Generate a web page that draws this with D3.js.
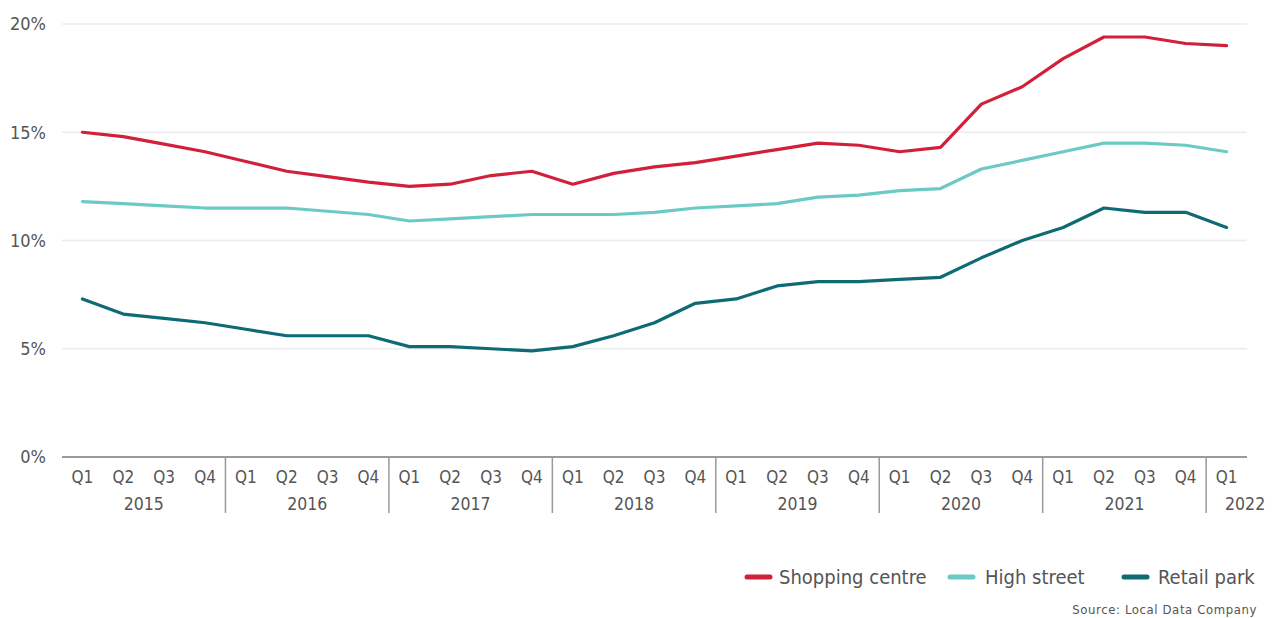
<!DOCTYPE html>
<html>
<head>
<meta charset="utf-8">
<script src="https://cdn.jsdelivr.net/npm/d3@7"></script>
<style>
  body { margin: 0; background: #fff; }
  svg text { font-family: "DejaVu Sans Condensed", "Liberation Sans Narrow", Roboto, sans-serif; fill: #555; }
</style>
</head>
<body>
<svg id="chart" width="1278" height="618"></svg>
<script>
// quarters 2015 Q1 .. 2022 Q1
const years = ['2015', '2016', '2017', '2018', '2019', '2020', '2021', '2022'];
const quarters = ['Q1', 'Q2', 'Q3', 'Q4'];
const yTicks = [0, 5, 10, 15, 20];

const shoppingCentre = [15.0, 14.8, 14.45, 14.1, 13.65, 13.2, 12.95, 12.7,
    12.5, 12.6, 13.0, 13.2, 12.6, 13.1, 13.4, 13.6,
    13.9, 14.2, 14.5, 14.4, 14.1, 14.3, 16.3, 17.1,
    18.4, 19.4, 19.4, 19.1, 19.0];
const highStreet = [11.8, 11.7, 11.6, 11.5, 11.5, 11.5, 11.35, 11.2,
    10.9, 11.0, 11.1, 11.2, 11.2, 11.2, 11.3, 11.5,
    11.6, 11.7, 12.0, 12.1, 12.3, 12.4, 13.3, 13.7,
    14.1, 14.5, 14.5, 14.4, 14.1];
const retailPark = [7.3, 6.6, 6.4, 6.2, 5.9, 5.6, 5.6, 5.6,
    5.1, 5.1, 5.0, 4.9, 5.1, 5.6, 6.2, 7.1,
    7.3, 7.9, 8.1, 8.1, 8.2, 8.3, 9.2, 10.0,
    10.6, 11.5, 11.3, 11.3, 10.6];

const seriesNames = ['Shopping centre', 'High street', 'Retail park'];
const colors = ['#d2203a', '#6ccac6', '#0e6b74'];

// build the list of periods
const periods = [];
years.forEach(yr => {
    quarters.forEach(q => {
        if (periods.length < shoppingCentre.length) periods.push({ year: yr, q: q, key: yr + ' ' + q });
    });
});

const series = [shoppingCentre, highStreet, retailPark].map((vals, i) => ({
    name: seriesNames[i],
    color: colors[i],
    values: vals.map((v, j) => ({ key: periods[j].key, v: v }))
}));

const svg = d3.select('#chart');

const margin = { left: 62, right: 1247, top: 24, bottom: 457 };

const x = d3.scaleBand()
    .domain(periods.map(d => d.key))
    .range([margin.left, margin.right]);

const y = d3.scaleLinear()
    .domain([0, 20])
    .range([margin.bottom, margin.top]);

// gridlines
svg.append('g')
    .selectAll('line')
    .data(yTicks.filter(d => d > 0))
    .enter()
    .append('line')
    .attr('x1', margin.left)
    .attr('x2', margin.right)
    .attr('y1', d => y(d))
    .attr('y2', d => y(d))
    .style('stroke', '#ececec')
    .style('stroke-width', 1.5);

// y labels
svg.append('g')
    .selectAll('text')
    .data(yTicks)
    .enter()
    .append('text')
    .attr('x', 46)
    .attr('y', d => y(d))
    .attr('dy', '.35em')
    .attr('text-anchor', 'end')
    .style('font-size', '18px')
    .text(d => d + '%');

// x axis baseline
svg.append('line')
    .attr('x1', margin.left)
    .attr('x2', margin.right)
    .attr('y1', margin.bottom)
    .attr('y2', margin.bottom)
    .style('stroke', '#9a9a9a')
    .style('stroke-width', 2);

// quarter labels
svg.append('g')
    .selectAll('text')
    .data(periods)
    .enter()
    .append('text')
    .attr('x', d => x(d.key) + x.bandwidth() / 2)
    .attr('y', 483)
    .attr('text-anchor', 'middle')
    .style('font-size', '17px')
    .text(d => d.q);

// year separators and labels
const yearGroups = years.map(yr => {
    const ps = periods.filter(p => p.year === yr);
    return { year: yr, start: x(ps[0].key), end: x(ps[ps.length - 1].key) + x.bandwidth(), n: ps.length };
});

svg.append('g')
    .selectAll('line')
    .data(yearGroups.slice(1))
    .enter()
    .append('line')
    .attr('x1', d => d.start)
    .attr('x2', d => d.start)
    .attr('y1', margin.bottom)
    .attr('y2', 513)
    .style('stroke', '#9a9a9a')
    .style('stroke-width', 1.5);

svg.append('g')
    .selectAll('text')
    .data(yearGroups)
    .enter()
    .append('text')
    .attr('x', d => d.n === 4 ? (d.start + d.end) / 2 : d.start + 39)
    .attr('y', 510)
    .attr('text-anchor', 'middle')
    .style('font-size', '17.5px')
    .text(d => d.year);

// lines
const line = d3.line()
    .x(d => x(d.key) + x.bandwidth() / 2)
    .y(d => y(d.v));

svg.append('g')
    .selectAll('path')
    .data(series)
    .enter()
    .append('path')
    .attr('d', d => line(d.values))
    .style('fill', 'none')
    .style('stroke', d => d.color)
    .style('stroke-width', 3.2)
    .style('stroke-linejoin', 'round')
    .style('stroke-linecap', 'round');

// legend
const legendX = [745, 948, 1122];
const legend = svg.append('g')
    .selectAll('g')
    .data(series)
    .enter()
    .append('g')
    .attr('transform', (d, i) => 'translate(' + legendX[i] + ',577)');

legend.append('line')
    .attr('x1', 2)
    .attr('x2', 25)
    .style('stroke', d => d.color)
    .style('stroke-width', 5)
    .style('stroke-linecap', 'round');

legend.append('text')
    .attr('x', (d, i) => i === 2 ? 36 : (i === 1 ? 37 : 34))
    .attr('dy', '.35em')
    .style('font-size', '20px')
    .text(d => d.name);

svg.append('text')
    .attr('x', 1257)
    .attr('y', 614)
    .attr('text-anchor', 'end')
    .style('font-size', '13px')
    .style('letter-spacing', '0.6px')
    .text('Source: Local Data Company');
</script>
</body>
</html>
